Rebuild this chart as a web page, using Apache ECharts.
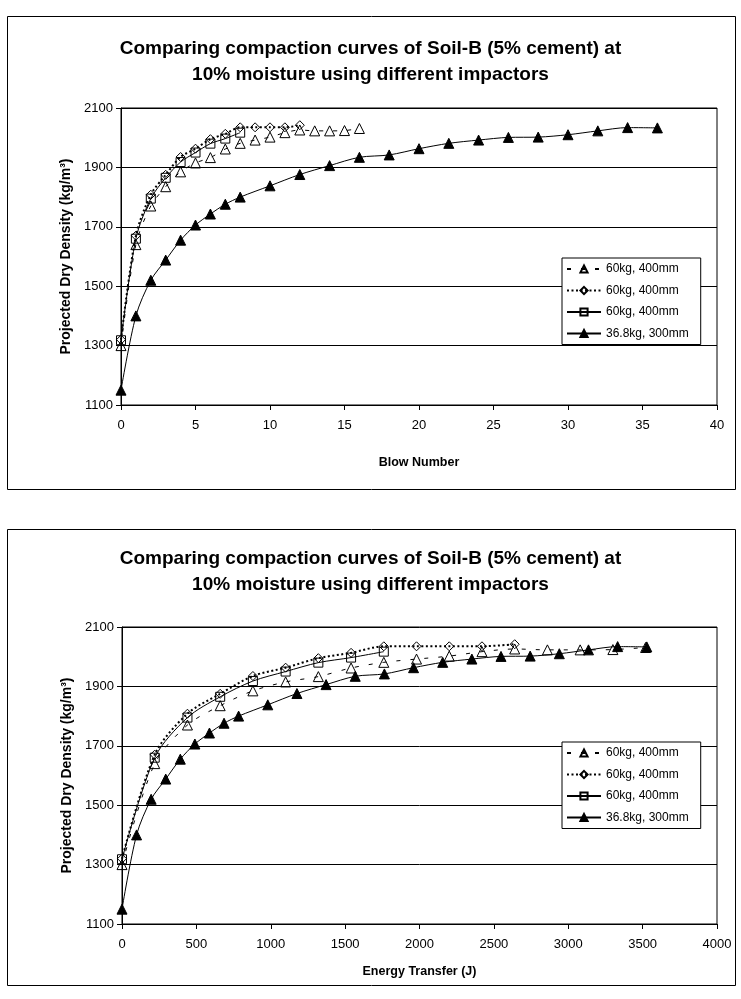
<!DOCTYPE html>
<html>
<head>
<meta charset="utf-8">
<script src="https://cdn.jsdelivr.net/npm/echarts@6/dist/echarts.min.js"></script>
<style>
html,body{margin:0;padding:0;background:#fff;}
#c{width:741px;height:999px;}
</style>
</head>
<body>
<div id="c"></div>
<script>
// ---- Data ----
var titleText = 'Comparing compaction curves of Soil-B (5% cement) at\n10% moisture using different impactors';
var legendLabels = ['60kg, 400mm', '60kg, 400mm', '60kg, 400mm', '36.8kg, 300mm'];

// Series A: 60kg, 400mm (hollow triangle, dashed)
var blowsA = [0,1,2,3,4,5,6,7,8,9,10,11,12,13,14,15,16];
var energyA = [0,220,440,660,880,1100,1320,1540,1760,1980,2200,2420,2640,2860,3080,3300,3520];
var densityA = [1300,1640,1770,1835,1885,1915,1933,1962,1981,1992,2002,2017,2026,2023,2023,2024,2031];

// Series B: 60kg, 400mm (hollow diamond, dotted)
var blowsB = [0,1,2,3,4,5,6,7,8,9,10,11,12];
var energyB = [0,220,440,660,880,1100,1320,1540,1760,1980,2200,2420,2640];
var densityB = [1320,1670,1808,1875,1935,1963,1995,2013,2035,2035,2035,2035,2042];

// Series C: 60kg, 400mm (hollow square, solid)
var blowsC = [0,1,2,3,4,5,6,7,8];
var energyC = [0,220,440,660,880,1100,1320,1540,1760];
var densityC = [1318,1660,1795,1865,1918,1950,1980,1997,2017];

// Series D: 36.8kg, 300mm (filled triangle, solid)
var blowsD = [0,1,2,3,4,5,6,7,8,10,12,14,16,18,20,22,24,26,28,30,32,34,36];
var energyD = [0,98,196,294,392,490,588,686,784,980,1176,1372,1568,1764,1960,2156,2352,2548,2744,2940,3136,3332,3528];
var densityD = [1150,1400,1520,1588,1655,1706,1743,1776,1800,1838,1876,1906,1934,1942,1963,1981,1992,2001,2002,2010,2023,2034,2033];

var yTicks = {min:1100, max:2100, interval:200};
var xTicksTop = {min:0, max:40, interval:5};
var xTicksBottom = {min:0, max:4000, interval:500};

// ---- Build ----
var FONT = '"Liberation Sans", Arial, sans-serif';
function pairs(xs, ys){ return xs.map(function(x,i){ return [x, ys[i]]; }); }
function plain(v){ return String(v); }

var seriesDefs = [
  {name:'A', symbol:'triangle', size:10, fill:'rgba(0,0,0,0)', line:{type:[4,10], width:1}},
  {name:'B', symbol:'diamond', size:9, fill:'rgba(0,0,0,0)', line:{type:[2,2.5], width:2}},
  {name:'C', symbol:'rect', size:9, fill:'rgba(0,0,0,0)', line:{type:'solid', width:1}},
  {name:'D', symbol:'triangle', size:10, fill:'#000', line:{type:'solid', width:1}}
];
var nameMap = {A:legendLabels[0], B:legendLabels[1], C:legendLabels[2], D:legendLabels[3]};

function mkSeries(def, data, gi){
  return {
    type:'line', name:def.name, xAxisIndex:gi, yAxisIndex:gi,
    data:data, symbol:def.symbol, symbolSize:def.size, showAllSymbol:true,
    smooth:0.3,
    lineStyle:{color:'#000', width:def.line.width, type:def.line.type},
    itemStyle:{color:def.fill, borderColor:'#000', borderWidth:1},
    emphasis:{disabled:true}
  };
}

var series = [];
series.push(mkSeries(seriesDefs[0], pairs(blowsA, densityA), 0));
series.push(mkSeries(seriesDefs[1], pairs(blowsB, densityB), 0));
series.push(mkSeries(seriesDefs[2], pairs(blowsC, densityC), 0));
series.push(mkSeries(seriesDefs[3], pairs(blowsD, densityD), 0));
series.push(mkSeries(seriesDefs[0], pairs(energyA, densityA), 1));
series.push(mkSeries(seriesDefs[1], pairs(energyB, densityB), 1));
series.push(mkSeries(seriesDefs[2], pairs(energyC, densityC), 1));
series.push(mkSeries(seriesDefs[3], pairs(energyD, densityD), 1));

function xAxis(gi, t, name, gap){
  return {
    type:'value', gridIndex:gi, min:t.min, max:t.max, interval:t.interval,
    name:name, nameLocation:'middle', nameGap:gap,
    nameTextStyle:{fontFamily:FONT, fontSize:12.5, fontWeight:'bold', color:'#000'},
    axisLine:{show:true, lineStyle:{color:'#000', width:1}},
    axisTick:{show:true, inside:false, length:5, lineStyle:{color:'#000'}},
    axisLabel:{fontFamily:FONT, fontSize:13, color:'#000', margin:14, formatter:plain},
    splitLine:{show:false}
  };
}
function yAxis(gi){
  return {
    type:'value', gridIndex:gi, min:yTicks.min, max:yTicks.max, interval:yTicks.interval,
    name:'Projected Dry Density (kg/m³)', nameLocation:'middle', nameGap:47,
    nameTextStyle:{fontFamily:FONT, fontSize:14, fontWeight:'bold', color:'#000'},
    axisLine:{show:true, lineStyle:{color:'#000', width:1}},
    axisTick:{show:true, inside:false, length:5, lineStyle:{color:'#000'}},
    axisLabel:{fontFamily:FONT, fontSize:13, color:'#000', margin:8, formatter:plain},
    splitLine:{show:true, lineStyle:{color:'#000', width:1}}
  };
}
function legend(top){
  return {
    orient:'vertical', left:562, top:top,
    data:['A','B','C','D'],
    formatter:function(n){ return nameMap[n]; },
    backgroundColor:'#fff', borderColor:'#000', borderWidth:1,
    padding:[5,12,5,4], itemGap:9.5, itemWidth:34, itemHeight:9,
    textStyle:{fontFamily:FONT, fontSize:12, color:'#000'},
    selectedMode:false
  };
}

var option = {
  animation:false,
  backgroundColor:'#fff',
  textStyle:{fontFamily:FONT},
  title:[
    {text:titleText, left:'center', top:31, textStyle:{fontFamily:FONT, fontSize:19, fontWeight:'bold', color:'#000', lineHeight:26}},
    {text:titleText, left:'center', top:541, textStyle:{fontFamily:FONT, fontSize:19, fontWeight:'bold', color:'#000', lineHeight:26}}
  ],
  grid:[
    {left:121, top:108, width:596, height:297, show:true, borderColor:'#000', borderWidth:1, backgroundColor:'transparent'},
    {left:122, top:627, width:595, height:297, show:true, borderColor:'#000', borderWidth:1, backgroundColor:'transparent'}
  ],
  xAxis:[ xAxis(0, xTicksTop, 'Blow Number', 51), xAxis(1, xTicksBottom, 'Energy Transfer (J)', 41) ],
  yAxis:[ yAxis(0), yAxis(1) ],
  legend:[ legend(258), legend(742) ],
  graphic:[
    {type:'rect', shape:{x:7.5, y:16.5, width:728, height:473}, style:{fill:'none', stroke:'#000', lineWidth:1}, silent:true},
    {type:'rect', shape:{x:7.5, y:529.5, width:728, height:456}, style:{fill:'none', stroke:'#000', lineWidth:1}, silent:true}
  ],
  series:series
};

var chart = echarts.init(document.getElementById('c'), null, {renderer:'canvas'});
chart.setOption(option);
</script>
</body>
</html>
